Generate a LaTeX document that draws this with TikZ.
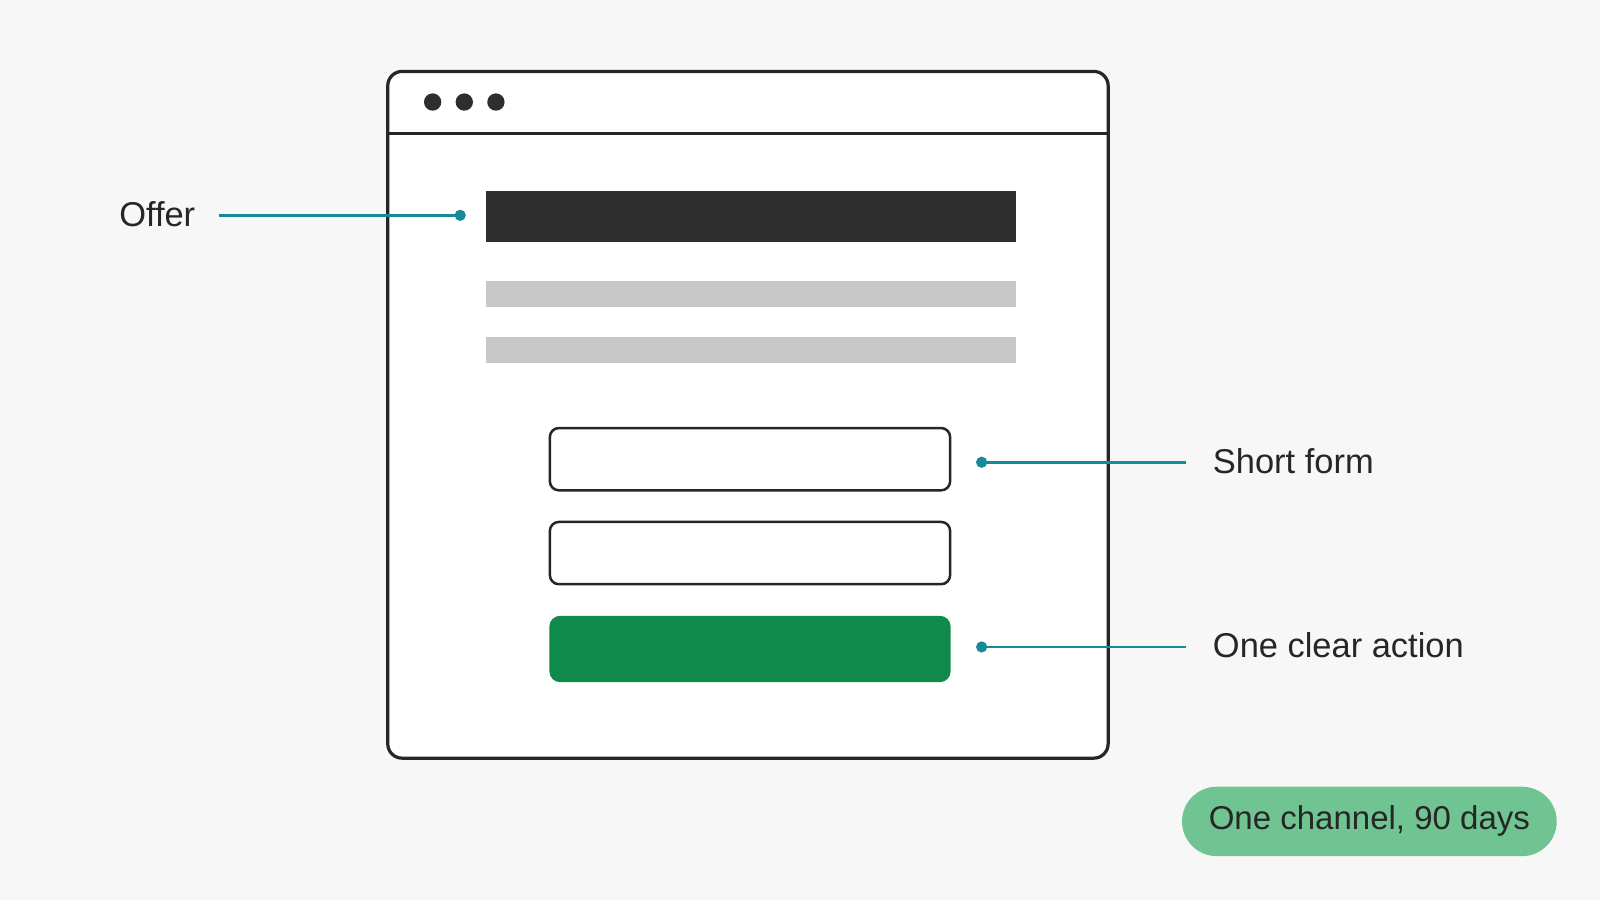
\documentclass[tikz,border=0pt]{standalone}
\usepackage{fontspec}
\setmainfont{Liberation Sans}
\definecolor{pinteal}{RGB}{22,138,152}
\begin{document}
\begin{tikzpicture}[x=0.01cm,y=-0.01cm,
    box/.style={draw=black!85, line width=0.7pt, rounded corners=2.5pt, fill=white, inner sep=0pt},
    bar/.style={inner sep=0pt, minimum height=#1*0.01cm},
    pin/.style={draw=pinteal, line width=0.8pt},
    label/.style={font=\fontsize{9.6}{12}\selectfont, text=black!85, inner sep=0pt}]
    % Fondo
    \fill[black!3] (0,0) rectangle (1568,882);
    \useasboundingbox (0,0) rectangle (1568,882);

    % Finestra
    \draw[draw=black!85, line width=0.9pt, fill=white, rounded corners=4pt] (380,70) rectangle (1086,743);
    \draw[draw=black!85, line width=0.9pt] (380,131) -- (1086,131);
    \foreach \x in {424,455,486}
        \fill[black!82] (\x,100) circle (8.5);

    % Contenuto
    \node[bar=50, fill=black!82, minimum width=5.2cm] (offer) at (736,212) {};
    \node[bar=26, fill=black!22, minimum width=5.2cm] (line1) at (736,288) {};
    \node[bar=26, fill=black!22, minimum width=5.2cm] (line2) at (736,343) {};
    \node[box, minimum width=3.92cm, minimum height=0.61cm] (field1) at (735,450) {};
    \node[box, minimum width=3.92cm, minimum height=0.61cm] (field2) at (735,542) {};
    \node[fill={rgb,255:red,16;green,138;blue,74}, rounded corners=3pt, inner sep=0pt,
          minimum width=3.93cm, minimum height=0.65cm] (action) at (735,636) {};

    % Etichette
    \node[label, anchor=east] (tOffer) at (192,210) {Offer};
    \node[label, anchor=west] (tForm) at (1188,452) {Short form};
    \node[label, anchor=west] (tAction) at (1188,632) {One clear action};

    % Richiami
    \coordinate (sOffer) at (215,211);
    \coordinate (dOffer) at (451,211);
    \coordinate (dForm) at (962,453);
    \coordinate (eForm) at (1162,453);
    \coordinate (dAction) at (962,634);
    \coordinate (eAction) at (1162,634);
    \draw[pin] (sOffer) -- (dOffer);
    \fill[pinteal] (dOffer) circle (5.5);
    \draw[pin] (dForm) -- (eForm);
    \fill[pinteal] (dForm) circle (5.5);
    \draw[pin] (dAction) -- (eAction);
    \fill[pinteal] (dAction) circle (5.5);

    % Pillola
    \node[label, font=\fontsize{9.2}{12}\selectfont, fill={rgb,255:red,112;green,196;blue,146}, rounded corners=0.34cm,
          minimum width=3.67cm, minimum height=0.68cm] (pill) at (1342,805) {One channel, 90 days};
\end{tikzpicture}
\end{document}
